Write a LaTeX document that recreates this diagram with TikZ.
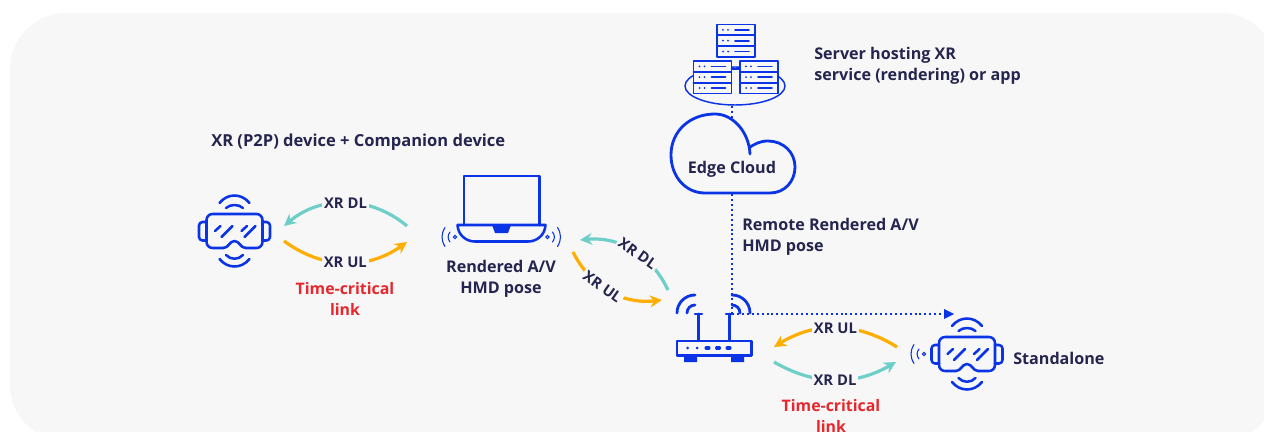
\documentclass[tikz,border=0pt]{standalone}
\usepackage{fontspec}
\setmainfont{Open Sans}
\usepackage{xcolor}
\usetikzlibrary{arrows.meta,positioning,calc}

\definecolor{panelgray}{HTML}{F7F7F7}
\definecolor{iconblue}{HTML}{0B34E6}
\definecolor{textnavy}{HTML}{25254F}
\definecolor{linkteal}{HTML}{6ECFC9}
\definecolor{linkorange}{HTML}{FFAE00}
\definecolor{alertred}{HTML}{E8262D}

\tikzset{
    icon/.style={draw=iconblue, line width=1.9pt, line cap=round, line join=round},
    thinicon/.style={draw=iconblue, line width=0.8pt, line cap=round},
    txt/.style={font=\bfseries\fontsize{12.1}{15.75}\selectfont, text=textnavy, inner sep=0pt, align=left},
    alert/.style={font=\bfseries\fontsize{11.9}{15.75}\selectfont, text=alertred, inner sep=0pt, align=center},
    xrlabel/.style={font=\bfseries\fontsize{11.1}{12}\selectfont, text=textnavy, fill=panelgray, inner sep=1.5pt},
    dl/.style={draw=linkteal, line width=2.4pt, -{Stealth[length=9pt,width=9pt]}},
    ul/.style={draw=linkorange, line width=2.4pt, -{Stealth[length=9pt,width=9pt]}},
    dotlink/.style={draw=iconblue, line width=1.4pt, dash pattern=on 1.5pt off 2.2pt},
    headset/.pic={
        % goggles
        \draw[icon, rounded corners=4.5pt] (-11,17) -- (-28,17) -- (-28,-17) -- (28,-17) -- (28,17) -- (11,17);
        % nose notch
        \draw[icon] (11,17) .. controls (6,17) and (5,10) .. (0,10) .. controls (-5,10) and (-6,17) .. (-11,17);
        % ear pieces
        \draw[icon, rounded corners=2.6pt] (-28,-9) -- (-35.5,-9) -- (-35.5,9.5) -- (-28,9.5);
        \draw[icon, rounded corners=2.6pt] (28,-9) -- (35.5,-9) -- (35.5,9.5) -- (28,9.5);
        % lens marks
        \draw[icon] (-19.5,0) -- (-14,-5) (-13,6) -- (-2,-5) (7,0) -- (12.5,-5) (10,6) -- (21,-5);
        % signal above and below
        \draw[icon] (-15,-28) .. controls (-7,-38) and (7,-38) .. (15,-28);
        \draw[icon] (-8.5,-23) .. controls (-4,-27) and (4,-27) .. (8.5,-23);
        \draw[icon] (-8.5,24) .. controls (-4,29) and (4,29) .. (8.5,24);
        \draw[icon] (-15,28) .. controls (-7,38) and (7,38) .. (15,28);
    },
    rack/.pic={
        \draw[icon, line width=1.4pt, fill=panelgray] (0,0) rectangle (38,32.5);
        \draw[icon, line width=1.4pt] (0,10.8) -- (38,10.8) (0,21.7) -- (38,21.7);
        \foreach \ypos in {5.4,16.2,27} {
            \fill[iconblue] (6,\ypos) circle (1) (11,\ypos) circle (1);
            \draw[icon, line width=1.2pt] (18,\ypos) -- (32,\ypos);
        }
    },
    signalleft/.pic={
        \draw[thinicon] (0,0) circle (1.7);
        \draw[thinicon] (-5,-5) .. controls (-7.5,-2) and (-7.5,2) .. (-5,5);
        \draw[thinicon] (-10,-9.5) .. controls (-14,-3) and (-14,3) .. (-10,9.5);
    },
    signalright/.pic={
        \draw[thinicon] (0,0) circle (1.7);
        \draw[thinicon] (5,-5) .. controls (7.5,-2) and (7.5,2) .. (5,5);
        \draw[thinicon] (10,-9.5) .. controls (14,-3) and (14,3) .. (10,9.5);
    }
}

\begin{document}
\begin{tikzpicture}[x=0.75pt, y=-0.75pt]
    \clip (0,0) rectangle (1264,432);

    % Panel
    \fill[panelgray, rounded corners=42pt] (10,13) rectangle (1277,441);

    % Server group
    \draw[icon, line width=1.1pt] (735,86) ellipse [x radius=50, y radius=19];
    \pic at (717,24.5) {rack};
    \pic at (693.5,61) {rack};
    \pic at (740,61) {rack};
    \draw[icon, line width=1.3pt] (731.5,69) -- (740,69);
    \node[txt, anchor=west] (serverlabel) at (814,66) {Server hosting XR\\service (rendering) or app};

    % Cloud
    \coordinate (serverfoot) at (732,106);
    \coordinate (cloudtop) at (732,118);
    \coordinate (cloudfoot) at (732,194);
    \coordinate (routerjoint) at (732,314);
    \coordinate (standalonetip) at (954,314);
    \draw[dotlink] (serverfoot) -- (cloudtop);
    \draw[icon, line width=2.1pt] (750,154) .. controls (749,132) and (733,114) .. (715,114)
        .. controls (690,114) and (671,131) .. (671,155)
        .. controls (671,176) and (685,193) .. (705,193) -- (770,193)
        .. controls (785,193) and (795,181) .. (795,167)
        .. controls (795,152) and (783,141) .. (768,141)
        .. controls (760,141) and (755,144) .. (750,147);
    \node[txt] (edgecloud) at (732,169) {Edge Cloud};

    % Dotted backhaul
    \draw[dotlink] (cloudfoot) -- (routerjoint);
    \draw[dotlink] (routerjoint) -- ($(standalonetip)+(-10,0)$);
    \fill[iconblue] (954,314) -- (944,309) -- (944,319) -- cycle;
    \node[txt, anchor=west] (remotelabel) at (742,237) {Remote Rendered A/V\\HMD pose};

    % Router
    \fill[iconblue] (684,356) rectangle (697,362) (731,356) rectangle (744,362);
    \draw[icon, fill=panelgray] (677,341) rectangle (751.5,355.5);
    \foreach \xpos in {687.5,697} {\fill[iconblue] (\xpos,348) circle (1.5);}
    \foreach \xpos in {707.5,718,728.5} {\draw[icon, line width=2.6pt] (\xpos-1.3,348) -- (\xpos+1.3,348);}
    \draw[icon] (698.5,314) -- (698.5,340) (695,314) -- (702,314);
    \draw[icon] (729.5,314) -- (729.5,340) (726,314) -- (733,314);
    \draw[icon, line width=2.1pt] (677,313) .. controls (677,303) and (685,295) .. (695,295);
    \draw[icon, line width=2.1pt] (687,313) .. controls (687,308.5) and (690.5,305) .. (695,305);
    \draw[icon, line width=2.1pt] (750,313) .. controls (750,303) and (742,295) .. (732,295);
    \draw[icon, line width=2.1pt] (740,313) .. controls (740,308.5) and (736.5,305) .. (732,305);

    % Laptop
    \draw[icon] (464,225) -- (464,176) -- (539.5,176) -- (539.5,225);
    \draw[icon] (457.5,225) -- (545.5,225) .. controls (545,235) and (537,241.5) .. (528,241.5)
        -- (475,241.5) .. controls (466,241.5) and (458,235) .. (457.5,225);
    \fill[iconblue] (492,225) -- (511,225) -- (508,233) -- (495,233) -- cycle;
    \pic at (455,237) {signalleft};
    \pic at (547.5,237) {signalright};
    \node[txt, align=center] (renderedlabel) at (501,279) {Rendered A/V\\HMD pose};

    % Headsets
    \pic at (234.5,231) {headset};
    \pic at (967,354) {headset};
    \pic at (924,354) {signalleft};
    \node[txt, anchor=west] (standalonelabel) at (1013,358.5) {Standalone};
    \node[txt, anchor=west, font=\bfseries\fontsize{12.4}{15.75}\selectfont] (p2plabel) at (211,142.5) {XR (P2P) device + Companion device};

    % Link end points
    \coordinate (leftdlstart) at (407,226);
    \coordinate (leftdlend) at (284,226);
    \coordinate (leftulstart) at (284,241);
    \coordinate (leftulend) at (407,242);
    \coordinate (middlstart) at (668,290);
    \coordinate (middlend) at (580,240);
    \coordinate (midulstart) at (573,252);
    \coordinate (midulend) at (662,300);
    \coordinate (rightulstart) at (897,347);
    \coordinate (rightulend) at (774,347);
    \coordinate (rightdlstart) at (774,362);
    \coordinate (rightdlend) at (896,362);

    % Links
    \draw[dl] (leftdlstart) to[bend right=40] node[xrlabel] (leftdl) {XR DL} (leftdlend);
    \draw[ul] (leftulstart) to[bend right=36] node[xrlabel] (leftul) {XR UL} (leftulend);
    \draw[dl] (middlstart) to[bend right=35] node[xrlabel, rotate=-35, pos=0.44] (middl) {XR DL} (middlend);
    \draw[ul] (midulstart) to[bend right=35] node[xrlabel, rotate=-35, pos=0.42] (midul) {XR UL} (midulend);
    \draw[ul] (rightulstart) to[bend right=32] node[xrlabel] (rightul) {XR UL} (rightulend);
    \draw[dl] (rightdlstart) to[bend right=30] node[xrlabel] (rightdl) {XR DL} (rightdlend);

    % Time-critical notes
    \node[alert] (leftalert) at (345,298.5) {Time-critical\\link};
    \node[alert] (rightalert) at (831,415.5) {Time-critical\\link};
\end{tikzpicture}
\end{document}
